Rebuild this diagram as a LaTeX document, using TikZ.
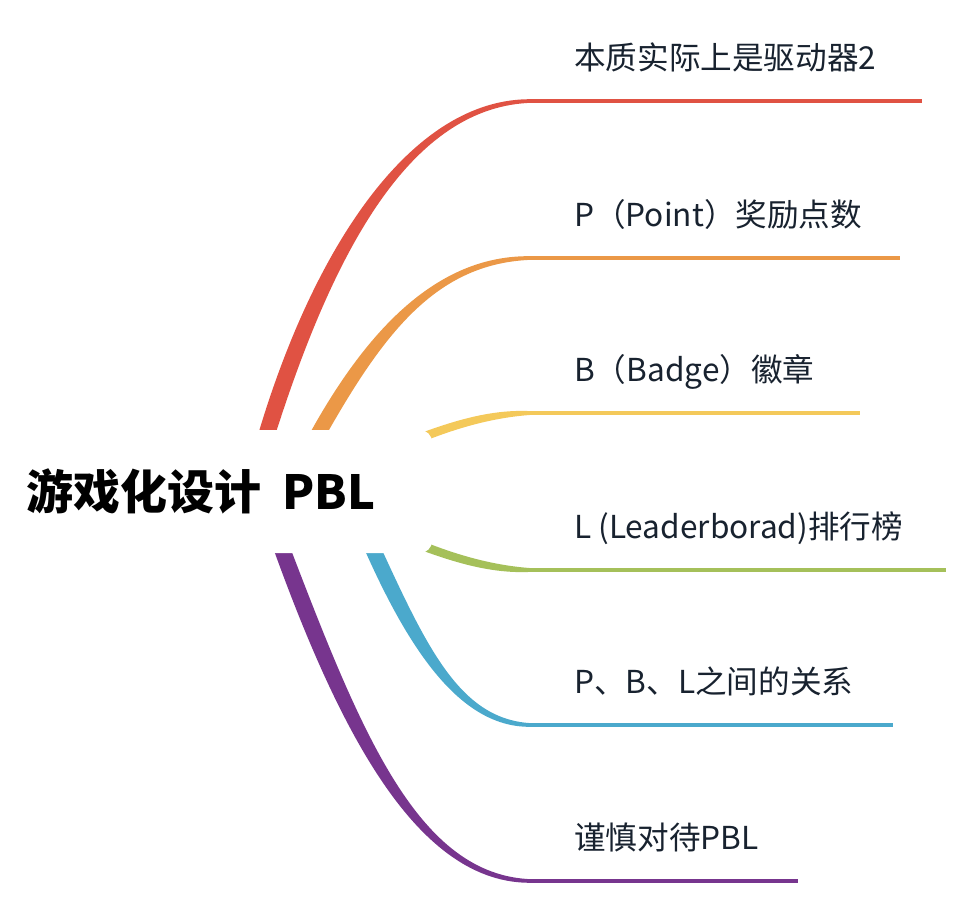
\documentclass[tikz,border=0pt]{standalone}
\usepackage{fontspec}
\usetikzlibrary{calc}
\newfontfamily\cjk{Noto Sans CJK SC}
\definecolor{cred}{HTML}{E05243}
\definecolor{corange}{HTML}{EB9847}
\definecolor{cyellow}{HTML}{F4C95A}
\definecolor{cgreen}{HTML}{A5C05A}
\definecolor{cblue}{HTML}{4BA9CC}
\definecolor{cpurple}{HTML}{77358E}
\definecolor{ctext}{HTML}{18222F}
% #1 colour, #2 sign (1 up, -1 down), #3 coordinate prefix, #4 start half-width, #5 control half-width
\newcommand\mmbranch[5]{%
  \fill[#1] ($(#3a)-(#4)$) .. controls ($(#3b)-(#5)$) and ($(#3c)+(0,-4.5*#2)$) .. ($(#3d)+(0,-1.75*#2)$)
    -- ($(#3d)+(0,1.75*#2)$) .. controls ($(#3c)+(0,4.5*#2)$) and ($(#3b)+(#5)$) .. ($(#3a)+(#4)$) -- cycle;}
\begin{document}
\begin{tikzpicture}[x=1pt,y=-1pt,
  lbl/.style={anchor=base west,inner sep=0pt,text=ctext,font=\cjk\fontsize{31.6}{31.6}\selectfont},
  stem/.style={line width=3.5pt}]
\useasboundingbox (0,0) rectangle (972,916);
% red
\coordinate (ra) at (263.5,445); \coordinate (rb) at (322,250); \coordinate (rc) at (411,101); \coordinate (rd) at (533,101); \coordinate (re) at (922,101);
% orange
\coordinate (oa) at (312,445); \coordinate (ob) at (372,335); \coordinate (oc) at (435,258); \coordinate (od) at (533,258); \coordinate (oe) at (900,258);
% yellow
\coordinate (ya) at (410,442); \coordinate (yb) at (450,426); \coordinate (yc) at (490,413); \coordinate (yd) at (533,413); \coordinate (ye) at (860,413);
% green
\coordinate (ga) at (410,541); \coordinate (gb) at (450,557); \coordinate (gc) at (490,570); \coordinate (gd) at (533,570); \coordinate (ge) at (946,570);
% blue
\coordinate (ba) at (368,538); \coordinate (bb) at (417,648); \coordinate (bc) at (460,725); \coordinate (bd) at (533,725); \coordinate (be) at (893,725);
% purple
\coordinate (pa) at (278,538); \coordinate (pb) at (350,733); \coordinate (pc) at (418,881); \coordinate (pd) at (533,881); \coordinate (pe) at (798,881);

\mmbranch{cred}{1}{r}{8.5,0}{11,0}
\mmbranch{corange}{1}{o}{8.5,0}{10,0}
\mmbranch{cyellow}{1}{y}{0,5}{0,4}
\mmbranch{cgreen}{-1}{g}{0,-5}{0,-4}
\mmbranch{cblue}{-1}{b}{8.5,0}{10,0}
\mmbranch{cpurple}{-1}{p}{8.5,0}{11,0}

\draw[stem,cred] ($(rd)-(3,0)$) -- (re);
\draw[stem,corange] ($(od)-(3,0)$) -- (oe);
\draw[stem,cyellow] ($(yd)-(3,0)$) -- (ye);
\draw[stem,cgreen] ($(gd)-(3,0)$) -- (ge);
\draw[stem,cblue] ($(bd)-(3,0)$) -- (be);
\draw[stem,cpurple] ($(pd)-(3,0)$) -- (pe);

\node[fill=white,rounded corners=12pt,minimum width=442pt,minimum height=123pt,inner sep=0pt] (rootbox) at (211,491.5) {};
\node[anchor=base west,inner sep=0pt,font=\cjk\bfseries\fontsize{47}{47}\selectfont] (root) at (26,509) {游戏化设计\hspace{21pt}PBL};

\node[lbl] (l1) at (574,69.5) {本质实际上是驱动器2};
\node[lbl] (l2) at (574,226.5) {P（Point）奖励点数};
\node[lbl] (l3) at (574,381.5) {B（Badge）徽章};
\node[lbl] (l4) at (574,538.5) {L (Leaderborad)排行榜};
\node[lbl] (l5) at (574,693.5) {P、B、L之间的关系};
\node[lbl] (l6) at (574,849.5) {谨慎对待PBL};
\end{tikzpicture}
\end{document}
